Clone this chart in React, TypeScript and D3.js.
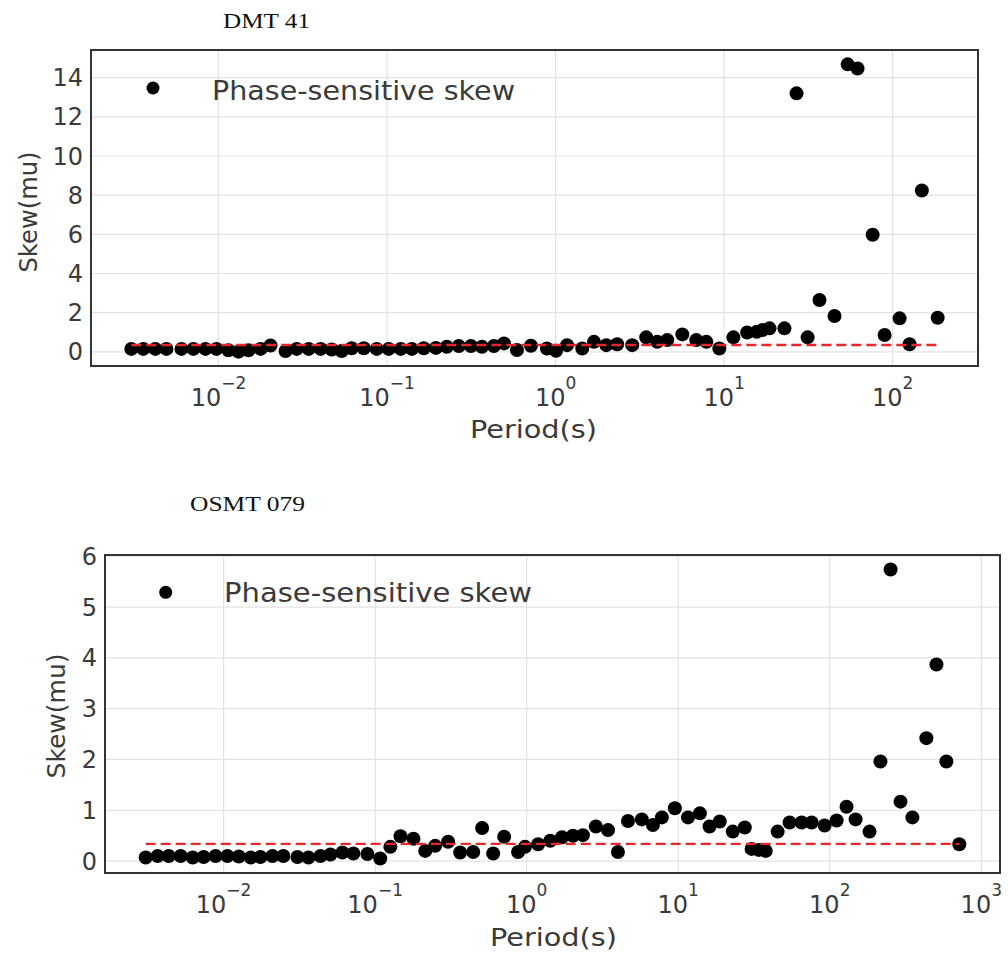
import React from "react";
import * as d3 from "d3";

// ---------------- Data ----------------
const dmtPeriods = [
  0.00304, 0.00358, 0.00422, 0.00491, 0.00603, 0.0071, 0.00837, 0.00973, 0.01146, 0.01315,
  0.01507, 0.01778, 0.02037, 0.025, 0.0291, 0.0343, 0.0404, 0.047, 0.0538, 0.0617,
  0.0728, 0.0869, 0.1023, 0.1207, 0.1403, 0.1652, 0.195, 0.2264, 0.2667, 0.3148,
  0.3656, 0.4305, 0.4943, 0.5902, 0.7145, 0.889, 1.007, 1.17, 1.44, 1.69,
  2.0, 2.32, 2.85, 3.45, 4.01, 4.6, 5.65, 6.84, 7.85, 9.37,
  11.35, 13.7, 15.6, 16.9, 18.6, 22.8, 26.9, 31.3, 36.8, 45.2,
  54.1, 61.9, 76.1, 89.6, 110, 126, 149, 185,
];
const dmtSkew = [
  0.15, 0.15, 0.15, 0.15, 0.15, 0.15, 0.15, 0.15, 0.08, 0.01,
  0.08, 0.15, 0.32, 0.04, 0.15, 0.15, 0.15, 0.12, 0.04, 0.18,
  0.18, 0.15, 0.15, 0.15, 0.15, 0.18, 0.2, 0.26, 0.3, 0.3,
  0.26, 0.3, 0.43, 0.09, 0.31, 0.17, 0.05, 0.34, 0.17, 0.51,
  0.34, 0.39, 0.34, 0.74, 0.51, 0.6, 0.89, 0.6, 0.51, 0.17,
  0.74, 0.99, 1.02, 1.11, 1.2, 1.2, 13.2, 0.74, 2.65, 1.83,
  14.68, 14.47, 5.98, 0.86, 1.71, 0.39, 8.24, 1.74,
];
const dmtThreshold = 0.35;

const osmtPeriods = [
  0.00306, 0.00367, 0.00434, 0.00521, 0.00625, 0.00738, 0.00885, 0.0106, 0.0126, 0.0151,
  0.0175, 0.021, 0.0248, 0.0307, 0.0363, 0.0436, 0.0507, 0.0608, 0.0718, 0.0889,
  0.108, 0.126, 0.147, 0.179, 0.214, 0.249, 0.303, 0.364, 0.444, 0.508,
  0.601, 0.71, 0.877, 0.975, 1.19, 1.43, 1.71, 2.02, 2.35, 2.86,
  3.44, 4.0, 4.66, 5.75, 6.81, 7.8, 9.5, 11.6, 13.9, 16.1,
  18.8, 22.9, 27.5, 30.5, 34.0, 37.8, 45.3, 54.3, 65.2, 75.9,
  92.5, 111, 129, 148, 183, 216, 252, 293, 351, 434,
  506, 588, 716,
];
const osmtSkew = [
  0.07, 0.1, 0.1, 0.1, 0.07, 0.08, 0.1, 0.1, 0.09, 0.07,
  0.08, 0.1, 0.1, 0.08, 0.07, 0.1, 0.13, 0.17, 0.15, 0.14,
  0.05, 0.28, 0.49, 0.44, 0.2, 0.3, 0.38, 0.17, 0.18, 0.65,
  0.15, 0.48, 0.18, 0.28, 0.33, 0.4, 0.47, 0.5, 0.51, 0.68,
  0.61, 0.18, 0.79, 0.82, 0.71, 0.86, 1.04, 0.86, 0.94, 0.68,
  0.78, 0.58, 0.66, 0.24, 0.22, 0.2, 0.58, 0.76, 0.76, 0.76,
  0.7, 0.8, 1.07, 0.82, 0.58, 1.96, 5.74, 1.17, 0.86, 2.42,
  3.87, 1.96, 0.33,
];
const osmtThreshold = 0.34;

const dmtYTicks = [0, 2, 4, 6, 8, 10, 12, 14];
const osmtYTicks = [0, 1, 2, 3, 4, 5, 6];
const dmtXExponents = [-2, -1, 0, 1, 2];
const osmtXExponents = [-2, -1, 0, 1, 2, 3];

const legendLabel = "Phase-sensitive skew";
const xAxisLabel = "Period(s)";
const yAxisLabel = "Skew(mu)";

// ---------------- Layout ----------------
const SANS = "'DejaVu Sans', Verdana, sans-serif";
const SERIF = "'Liberation Serif', 'Times New Roman', serif";

type PanelCfg = {
  title: string;
  periods: number[];
  skew: number[];
  threshold: number;
  yTicks: number[];
  xExps: number[];
  left: number; right: number; top: number; bottom: number;
  titleX: number; titleY: number; titleLen: number;
  legDotX: number; legDotY: number; legTextX: number; legTextY: number; legLen: number;
  yLabX: number; yLabY: number; yLabLen: number;
  xLabX: number; xLabY: number; xLabLen: number;
  tickRight: number; xTickY: number;
};

const panels: PanelCfg[] = [
  {
    title: "DMT 41", periods: dmtPeriods, skew: dmtSkew, threshold: dmtThreshold,
    yTicks: dmtYTicks, xExps: dmtXExponents,
    left: 91, right: 978, top: 50, bottom: 366,
    titleX: 266.5, titleY: 28, titleLen: 87,
    legDotX: 153, legDotY: 88, legTextX: 212, legTextY: 100, legLen: 303,
    yLabX: 37, yLabY: 212, yLabLen: 121,
    xLabX: 533.5, xLabY: 438, xLabLen: 127,
    tickRight: 83, xTickY: 406,
  },
  {
    title: "OSMT 079", periods: osmtPeriods, skew: osmtSkew, threshold: osmtThreshold,
    yTicks: osmtYTicks, xExps: osmtXExponents,
    left: 105, right: 1000, top: 555, bottom: 873,
    titleX: 247.5, titleY: 511, titleLen: 115,
    legDotX: 165.7, legDotY: 592.3, legTextX: 224, legTextY: 602, legLen: 308,
    yLabX: 65, yLabY: 716, yLabLen: 125,
    xLabX: 553.5, xLabY: 946, xLabLen: 127,
    tickRight: 97, xTickY: 913,
  },
];

function Panel({ c }: { c: PanelCfg }) {
  const lo = Math.log10(d3.min(c.periods)!);
  const hi = Math.log10(d3.max(c.periods)!);
  const mx = (hi - lo) * 0.05;
  const x = d3.scaleLog().domain([10 ** (lo - mx), 10 ** (hi + mx)]).range([c.left, c.right]);
  const ymin = d3.min(c.skew)!;
  const ymax = d3.max(c.skew)!;
  const my = (ymax - ymin) * 0.05;
  const y = d3.scaleLinear().domain([ymin - my, ymax + my]).range([c.bottom, c.top]);
  const [pMin, pMax] = d3.extent(c.periods) as [number, number];
  const gridColor = "#e3e3e3";
  const textColor = "#3a3a3a";
  const r = 7;
  return (
    <g>
      <text x={c.titleX} y={c.titleY} textAnchor="middle" fontFamily={SERIF} fontSize={20}
        fill="#111" textLength={c.titleLen} lengthAdjust="spacingAndGlyphs">{c.title}</text>
      <rect x={c.left} y={c.top} width={c.right - c.left} height={c.bottom - c.top} fill="#fff" />
      {c.yTicks.map((t) => (
        <line key={"gy" + t} x1={c.left} x2={c.right} y1={y(t)} y2={y(t)} stroke={gridColor} strokeWidth={1.2} />
      ))}
      {c.xExps.map((e) => (
        <line key={"gx" + e} x1={x(10 ** e)} x2={x(10 ** e)} y1={c.top} y2={c.bottom} stroke={gridColor} strokeWidth={1.2} />
      ))}
      {c.periods.map((p, i) => (
        <circle key={"p" + i} cx={x(p)} cy={y(c.skew[i])} r={r} fill="#000" />
      ))}
      <line x1={x(pMin)} x2={x(pMax)} y1={y(c.threshold)} y2={y(c.threshold)}
        stroke="#e8272a" strokeWidth={2.3} strokeDasharray="10,5" />
      <rect x={c.left} y={c.top} width={c.right - c.left} height={c.bottom - c.top}
        fill="none" stroke="#333" strokeWidth={2} />
      {c.yTicks.map((t) => (
        <text key={"ty" + t} x={c.tickRight} y={y(t)} dy="0.36em" textAnchor="end"
          fontFamily={SANS} fontSize={24} fill={textColor}>{t}</text>
      ))}
      {c.xExps.map((e) => (
        <text key={"tx" + e} x={x(10 ** e)} y={c.xTickY} textAnchor="middle"
          fontFamily={SANS} fontSize={24} fill={textColor}>
          10<tspan dy={-17} fontSize={17}>{e < 0 ? "\u2212" + Math.abs(e) : String(e)}</tspan>
        </text>
      ))}
      <text x={c.xLabX} y={c.xLabY} textAnchor="middle" fontFamily={SANS} fontSize={24.5}
        fill={textColor} textLength={c.xLabLen} lengthAdjust="spacingAndGlyphs">{xAxisLabel}</text>
      <text transform={`translate(${c.yLabX},${c.yLabY}) rotate(-90)`} textAnchor="middle"
        fontFamily={SANS} fontSize={24} fill={textColor} textLength={c.yLabLen}
        lengthAdjust="spacingAndGlyphs">{yAxisLabel}</text>
      <circle cx={c.legDotX} cy={c.legDotY} r={6.5} fill="#000" />
      <text x={c.legTextX} y={c.legTextY} fontFamily={SANS} fontSize={27} fill={textColor}
        textLength={c.legLen} lengthAdjust="spacingAndGlyphs">{legendLabel}</text>
    </g>
  );
}

export default function App() {
  return (
    <div style={{ position: "absolute", left: 0, top: 0 }}>
      <svg width={1008} height={956} style={{ display: "block", background: "#fff" }}>
        <rect width={1008} height={956} fill="#fff" />
        {panels.map((c) => (
          <Panel key={c.title} c={c} />
        ))}
      </svg>
    </div>
  );
}
